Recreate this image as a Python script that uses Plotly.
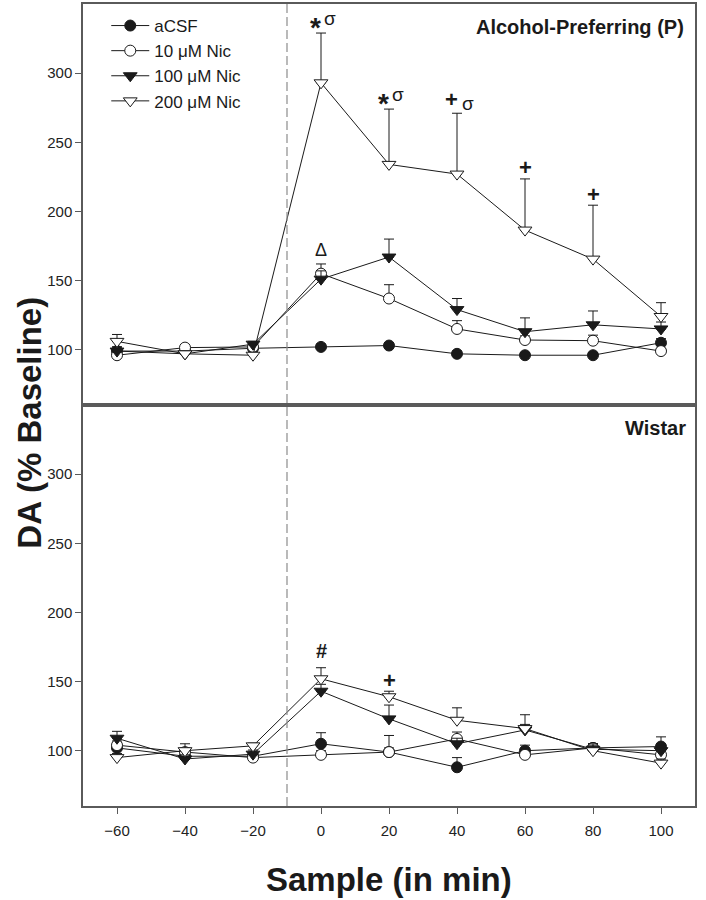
import plotly.graph_objects as go
from plotly.subplots import make_subplots

# ---------------- data ----------------
samples = [-60, -40, -20, 0, 20, 40, 60, 80, 100]
x_ticks = [-60, -40, -20, 0, 20, 40, 60, 80, 100]
y_ticks = [100, 150, 200, 250, 300]
series_names = ["aCSF", "10 \u03bcM Nic", "100 \u03bcM Nic", "200 \u03bcM Nic"]

# Alcohol-Preferring (P) rats
p_acsf = [99, 99, 101, 102, 103, 97, 96, 96, 105]
p_acsf_err = [3, 2, 2, 2, 2, 2, 2, 2, 3]
p_nic10 = [96, 101.5, 102, 155, 137, 115, 107, 106.5, 99]
p_nic10_err = [2, 2, 2, 7, 10, 6, 3, 4, 2]
p_nic100 = [99, 97, 104, 151, 167, 129, 113, 118, 115]
p_nic100_err = [3, 2, 2, 6, 13, 8, 10, 10, 5]
p_nic200 = [106, 97, 96, 293, 234, 227, 186.5, 165.5, 124]
p_nic200_err = [5, 2, 2, 36, 40, 44, 37, 39, 10]

# Wistar rats
w_acsf = [102, 96, 96, 105, 99, 88, 100, 102, 103]
w_acsf_err = [4, 3, 2, 8, 3, 7, 4, 3, 7]
w_nic10 = [104, 99, 95, 97, 99, 108.5, 97, 102, 97]
w_nic10_err = [3, 3, 2, 3, 12, 5, 4, 3, 3]
w_nic100 = [109, 94, 97.5, 143, 123, 105, 115, 101, 100]
w_nic100_err = [5, 3, 3, 5, 10, 4, 4, 4, 4]
w_nic200 = [95, 100, 103.5, 152, 139, 122, 116, 100, 91]
w_nic200_err = [3, 5, 2, 8, 4, 9, 10, 4, 3]

# significance labels: sample, label, series index it sits above
p_sig_t = [0, 20, 40, 60, 80, 0]
p_sig_lbl = ["*\u03c3", "*\u03c3", "+\u03c3", "+", "+", "\u0394"]
p_sig_series = [3, 3, 3, 3, 3, 1]
w_sig_t = [0, 20]
w_sig_lbl = ["#", "+"]
w_sig_series = [3, 3]

# ---------------- styles ----------------
FONT = "Liberation Sans, Arial, sans-serif"
INK = "#1a1a1a"
FRAME = "#5a5a5a"
marker_styles = [
    dict(symbol="circle", color=INK),
    dict(symbol="circle", color="white"),
    dict(symbol="triangle-down", color=INK),
    dict(symbol="triangle-down", color="white"),
]
marker_sizes = [11, 11, 12, 12]

glyph_style = {
    "*": ("<b>*</b>", 28),
    "+": ("<b>+</b>", 22),
    "#": ("<b>#</b>", 20),
    "\u03c3": ("\u03c3", 19),
    "\u0394": ("\u0394", 18),
}
glyph_yshift_single = {"+": 11, "#": 17, "\u0394": 14, "*": 7}
pair_offsets = {  # label -> [(xshift, yshift) for each glyph]
    "*\u03c3": [(-6, 6), (9, 15)],
    "+\u03c3": [(-5.5, 14), (10.5, 10)],
}

fig = make_subplots(rows=2, cols=1, shared_xaxes=True, vertical_spacing=0)

panels = [
    (1, [p_acsf, p_nic10, p_nic100, p_nic200], [p_acsf_err, p_nic10_err, p_nic100_err, p_nic200_err]),
    (2, [w_acsf, w_nic10, w_nic100, w_nic200], [w_acsf_err, w_nic10_err, w_nic100_err, w_nic200_err]),
]

for row, vals, errs in panels:
    for i in range(4):
        fig.add_trace(
            go.Scatter(
                x=samples, y=vals[i], mode="lines+markers", name=series_names[i],
                showlegend=(row == 1), legendgroup=series_names[i],
                line=dict(color=INK, width=1),
                marker=dict(symbol=marker_styles[i]["symbol"], color=marker_styles[i]["color"],
                            size=marker_sizes[i], line=dict(color=INK, width=1)),
                error_y=dict(type="data", symmetric=False, array=errs[i],
                             arrayminus=[0] * len(errs[i]), width=5, thickness=1, color=INK),
            ),
            row=row, col=1,
        )

for row, ts, lbls, sidx, vals, errs in [
    (1, p_sig_t, p_sig_lbl, p_sig_series, panels[0][1], panels[0][2]),
    (2, w_sig_t, w_sig_lbl, w_sig_series, panels[1][1], panels[1][2]),
]:
    for t, lbl, s in zip(ts, lbls, sidx):
        k = samples.index(t)
        yv = vals[s][k] + errs[s][k]
        if lbl in pair_offsets:
            parts = list(zip(lbl, pair_offsets[lbl]))
        else:
            parts = [(lbl, (0, glyph_yshift_single[lbl]))]
        for ch, (dx, dy) in parts:
            html, fsize = glyph_style[ch]
            fig.add_annotation(
                x=t, y=yv, xref="x" if row == 1 else "x2", yref="y" if row == 1 else "y2",
                text=html, showarrow=False, xanchor="center", yanchor="middle",
                xshift=dx, yshift=dy, font=dict(family=FONT, size=fsize, color=INK),
            )

# panel labels
fig.add_annotation(x=0.985, y=0.943, xref="paper", yref="y domain", text="<b>Alcohol-Preferring (P)</b>",
                   showarrow=False, xanchor="right", yanchor="middle",
                   font=dict(family=FONT, size=20, color=INK))
fig.add_annotation(x=0.988, y=0.943, xref="paper", yref="y2 domain", text="<b>Wistar</b>",
                   showarrow=False, xanchor="right", yanchor="middle",
                   font=dict(family=FONT, size=20, color=INK))

# axis titles
fig.add_annotation(x=-0.0866, y=0.478, xref="paper", yref="paper", text="<b>DA (% Baseline)</b>",
                   textangle=-90, showarrow=False, xanchor="center", yanchor="middle",
                   font=dict(family=FONT, size=33, color=INK))
fig.add_annotation(x=0.50, y=-0.092, xref="paper", yref="paper", text="<b>Sample (in min)</b>",
                   showarrow=False, xanchor="center", yanchor="middle",
                   font=dict(family=FONT, size=33, color=INK))

# dashed injection line
fig.add_shape(type="line", xref="x", yref="paper", x0=-10, x1=-10, y0=0, y1=1,
              line=dict(color="#8c8c8c", width=1.2, dash="9px,4px"))

axis_common = dict(showline=True, mirror=True, linecolor=FRAME, linewidth=1.5,
                   showgrid=False, zeroline=False)
fig.update_xaxes(range=[-70, 110], tickvals=x_ticks, **axis_common)
fig.update_xaxes(ticks="", showticklabels=False, row=1, col=1)
fig.update_xaxes(ticks="outside", ticklen=6, tickcolor=FRAME, tickwidth=1.2, ticklabelstandoff=4,
                 tickfont=dict(family=FONT, size=15, color="#222"), row=2, col=1)
fig.update_yaxes(range=[60, 350], tickvals=y_ticks, ticks="outside", ticklen=6, tickcolor=FRAME,
                 tickwidth=1.2, tickfont=dict(family=FONT, size=15, color="#222"), **axis_common)

fig.update_layout(
    width=706, height=900,
    margin=dict(l=83, r=11, t=2, b=94),
    plot_bgcolor="white", paper_bgcolor="white",
    showlegend=True,
    legend=dict(x=0.038, y=0.995, xanchor="left", yanchor="top", bgcolor="rgba(0,0,0,0)",
                itemwidth=38, font=dict(family=FONT, size=17, color=INK), tracegroupgap=0),
)

fig.write_html(
    "out.html", include_plotlyjs=True, config={"displayModeBar": False},
    post_script="document.body.style.margin='0px';document.body.style.padding='0px';"
                "document.documentElement.style.overflow='hidden';",
)
